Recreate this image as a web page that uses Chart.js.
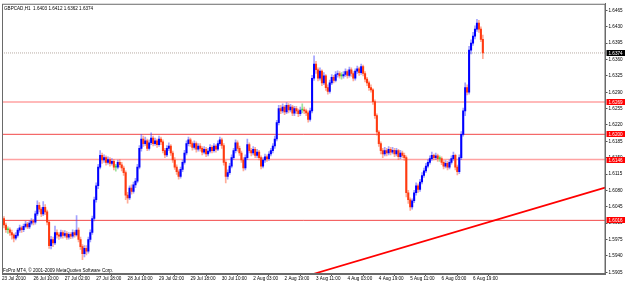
<!DOCTYPE html>
<html>
<head>
<meta charset="utf-8">
<script src="https://cdn.jsdelivr.net/npm/chart.js@4.4.0/dist/chart.umd.min.js"></script>
<style>
  html, body { margin: 0; padding: 0; background: #fff; }
  #wrap { width: 625px; height: 283px; }
</style>
</head>
<body>
<div id="wrap"><canvas id="chart"></canvas></div>
<script>
// GBPCAD H1, 23 Jul - 6 Aug 2010 (MT4 style candle chart)
const symbolTitle = 'GBPCAD,H1  1.6403 1.6412 1.6362 1.6374';
const copyrightText = 'FxPro MT4, \u00a9 2001-2009 MetaQuotes Software Corp.';

const timeLabels = ['23 Jul 2010', '26 Jul 10:00', '27 Jul 02:00', '27 Jul 18:00', '28 Jul 10:00',
  '29 Jul 02:00', '29 Jul 18:00', '30 Jul 10:00', '2 Aug 03:00', '2 Aug 19:00', '3 Aug 11:00',
  '4 Aug 03:00', '4 Aug 19:00', '5 Aug 11:00', '6 Aug 03:00', '6 Aug 19:00'];
const labelEvery = 16; // bars between two time labels

const priceTicks = [1.5905, 1.5940, 1.5975, 1.6010, 1.6045, 1.6080, 1.6115, 1.6150, 1.6185,
  1.6220, 1.6255, 1.6290, 1.6325, 1.6360, 1.6395, 1.6430, 1.6465];

const opens = [
  1.6024, 1.6020, 1.6006, 1.5996, 1.5996, 1.5990, 1.5985, 1.5978, 1.5984, 1.5995,
  1.6000, 1.5996, 1.6003, 1.6008, 1.6002, 1.6010, 1.6014, 1.6012, 1.6030, 1.6048,
  1.6040, 1.6030, 1.6044, 1.6034, 1.6012, 1.5962, 1.5975, 1.5968, 1.5990, 1.5985,
  1.5982, 1.5990, 1.5984, 1.5988, 1.5980, 1.5986, 1.5982, 1.5990, 1.5985, 1.5995,
  1.5975, 1.5960, 1.5945, 1.5956, 1.5950, 1.5975, 1.5990, 1.6020, 1.6060, 1.6090,
  1.6130, 1.6155, 1.6145, 1.6150, 1.6140, 1.6146, 1.6138, 1.6142, 1.6130, 1.6130,
  1.6140, 1.6135, 1.6128, 1.6118, 1.6070, 1.6064, 1.6085, 1.6078, 1.6092, 1.6100,
  1.6130, 1.6170, 1.6190, 1.6180, 1.6186, 1.6170, 1.6182, 1.6192, 1.6180, 1.6186,
  1.6178, 1.6190, 1.6184, 1.6165, 1.6156, 1.6170, 1.6175, 1.6160, 1.6145, 1.6130,
  1.6120, 1.6110, 1.6125, 1.6140, 1.6160, 1.6180, 1.6188, 1.6180, 1.6172, 1.6180,
  1.6168, 1.6175, 1.6170, 1.6162, 1.6168, 1.6158, 1.6164, 1.6172, 1.6165, 1.6175,
  1.6168, 1.6180, 1.6188, 1.6176, 1.6140, 1.6110, 1.6118, 1.6132, 1.6150, 1.6165,
  1.6182, 1.6170, 1.6160, 1.6145, 1.6128, 1.6150, 1.6178, 1.6165, 1.6160, 1.6168,
  1.6155, 1.6162, 1.6150, 1.6132, 1.6145, 1.6152, 1.6148, 1.6158, 1.6165, 1.6175,
  1.6190, 1.6225, 1.6255, 1.6250, 1.6258, 1.6248, 1.6262, 1.6252, 1.6258, 1.6245,
  1.6255, 1.6250, 1.6244, 1.6252, 1.6252, 1.6250, 1.6246, 1.6232, 1.6250, 1.6320,
  1.6350, 1.6338, 1.6320, 1.6335, 1.6310, 1.6325, 1.6300, 1.6292, 1.6310, 1.6322,
  1.6315, 1.6328, 1.6330, 1.6325, 1.6325, 1.6328, 1.6334, 1.6326, 1.6338, 1.6330,
  1.6320, 1.6335, 1.6340, 1.6332, 1.6345, 1.6330, 1.6318, 1.6310, 1.6300, 1.6295,
  1.6270, 1.6240, 1.6205, 1.6180, 1.6165, 1.6158, 1.6165, 1.6160, 1.6168, 1.6162,
  1.6166, 1.6158, 1.6165, 1.6152, 1.6160, 1.6155, 1.6150, 1.6075, 1.6060, 1.6045,
  1.6058, 1.6075, 1.6090, 1.6082, 1.6098, 1.6112, 1.6122, 1.6132, 1.6140, 1.6148,
  1.6155, 1.6150, 1.6154, 1.6148, 1.6148, 1.6140, 1.6132, 1.6138, 1.6130, 1.6140,
  1.6148, 1.6155, 1.6130, 1.6120, 1.6150, 1.6200, 1.6250, 1.6300, 1.6290, 1.6380,
  1.6395, 1.6410, 1.6425, 1.6438, 1.6425, 1.6403];

const highs = [
  1.6030, 1.6024, 1.6010, 1.6002, 1.6000, 1.5995, 1.5988, 1.5990, 1.5999, 1.6006,
  1.6004, 1.6008, 1.6014, 1.6012, 1.6015, 1.6020, 1.6018, 1.6036, 1.6058, 1.6054,
  1.6044, 1.6056, 1.6050, 1.6038, 1.6016, 1.5982, 1.5980, 1.6004, 1.5996, 1.5990,
  1.5995, 1.5994, 1.5994, 1.5992, 1.5990, 1.5990, 1.5996, 1.5994, 1.6026, 1.6000,
  1.5980, 1.5964, 1.5962, 1.5962, 1.5980, 1.5996, 1.6025, 1.6066, 1.6096, 1.6136,
  1.6165, 1.6160, 1.6156, 1.6154, 1.6152, 1.6150, 1.6148, 1.6146, 1.6136, 1.6145,
  1.6146, 1.6140, 1.6132, 1.6122, 1.6076, 1.6090, 1.6092, 1.6098, 1.6106, 1.6136,
  1.6176, 1.6200, 1.6196, 1.6194, 1.6190, 1.6188, 1.6203, 1.6196, 1.6192, 1.6190,
  1.6196, 1.6194, 1.6188, 1.6170, 1.6176, 1.6182, 1.6178, 1.6164, 1.6150, 1.6135,
  1.6124, 1.6130, 1.6145, 1.6166, 1.6186, 1.6194, 1.6192, 1.6184, 1.6186, 1.6184,
  1.6180, 1.6180, 1.6174, 1.6174, 1.6172, 1.6170, 1.6178, 1.6176, 1.6180, 1.6178,
  1.6186, 1.6194, 1.6192, 1.6180, 1.6144, 1.6124, 1.6138, 1.6156, 1.6170, 1.6188,
  1.6186, 1.6175, 1.6164, 1.6150, 1.6156, 1.6190, 1.6182, 1.6170, 1.6174, 1.6172,
  1.6168, 1.6166, 1.6154, 1.6150, 1.6158, 1.6156, 1.6163, 1.6170, 1.6180, 1.6196,
  1.6230, 1.6262, 1.6262, 1.6265, 1.6262, 1.6268, 1.6266, 1.6264, 1.6262, 1.6260,
  1.6260, 1.6254, 1.6258, 1.6265, 1.6258, 1.6254, 1.6250, 1.6256, 1.6326, 1.6368,
  1.6356, 1.6342, 1.6342, 1.6338, 1.6332, 1.6328, 1.6306, 1.6316, 1.6328, 1.6326,
  1.6334, 1.6336, 1.6334, 1.6332, 1.6334, 1.6340, 1.6338, 1.6344, 1.6342, 1.6334,
  1.6340, 1.6346, 1.6344, 1.6350, 1.6348, 1.6334, 1.6322, 1.6314, 1.6306, 1.6298,
  1.6274, 1.6244, 1.6208, 1.6184, 1.6170, 1.6172, 1.6170, 1.6174, 1.6172, 1.6172,
  1.6170, 1.6170, 1.6168, 1.6166, 1.6164, 1.6160, 1.6154, 1.6080, 1.6064, 1.6062,
  1.6080, 1.6096, 1.6094, 1.6104, 1.6118, 1.6128, 1.6138, 1.6146, 1.6154, 1.6162,
  1.6158, 1.6160, 1.6158, 1.6154, 1.6152, 1.6144, 1.6144, 1.6142, 1.6146, 1.6154,
  1.6162, 1.6158, 1.6134, 1.6156, 1.6206, 1.6256, 1.6310, 1.6306, 1.6388, 1.6402,
  1.6418, 1.6432, 1.6446, 1.6444, 1.6430, 1.6412];

const lows = [
  1.6012, 1.6000, 1.5990, 1.5988, 1.5984, 1.5976, 1.5970, 1.5974, 1.5980, 1.5990,
  1.5990, 1.5992, 1.6000, 1.5998, 1.5998, 1.6006, 1.6006, 1.6008, 1.6026, 1.6034,
  1.6024, 1.6026, 1.6028, 1.6006, 1.5956, 1.5955, 1.5960, 1.5964, 1.5978, 1.5975,
  1.5978, 1.5978, 1.5980, 1.5975, 1.5976, 1.5977, 1.5978, 1.5980, 1.5982, 1.5970,
  1.5954, 1.5932, 1.5938, 1.5942, 1.5946, 1.5970, 1.5986, 1.6015, 1.6055, 1.6084,
  1.6126, 1.6138, 1.6140, 1.6134, 1.6136, 1.6132, 1.6134, 1.6124, 1.6121, 1.6126,
  1.6130, 1.6122, 1.6112, 1.6060, 1.6053, 1.6060, 1.6072, 1.6074, 1.6086, 1.6096,
  1.6126, 1.6164, 1.6174, 1.6176, 1.6165, 1.6166, 1.6178, 1.6175, 1.6176, 1.6172,
  1.6174, 1.6178, 1.6160, 1.6150, 1.6152, 1.6165, 1.6155, 1.6140, 1.6125, 1.6114,
  1.6104, 1.6106, 1.6120, 1.6136, 1.6156, 1.6175, 1.6174, 1.6166, 1.6168, 1.6162,
  1.6164, 1.6164, 1.6156, 1.6158, 1.6152, 1.6154, 1.6160, 1.6160, 1.6162, 1.6162,
  1.6165, 1.6176, 1.6170, 1.6134, 1.6096, 1.6104, 1.6114, 1.6128, 1.6146, 1.6160,
  1.6164, 1.6155, 1.6140, 1.6122, 1.6124, 1.6146, 1.6160, 1.6154, 1.6156, 1.6150,
  1.6150, 1.6145, 1.6126, 1.6128, 1.6140, 1.6142, 1.6144, 1.6154, 1.6160, 1.6170,
  1.6186, 1.6220, 1.6244, 1.6246, 1.6242, 1.6244, 1.6246, 1.6248, 1.6240, 1.6240,
  1.6244, 1.6238, 1.6240, 1.6246, 1.6244, 1.6240, 1.6226, 1.6228, 1.6246, 1.6315,
  1.6330, 1.6314, 1.6316, 1.6304, 1.6306, 1.6294, 1.6286, 1.6288, 1.6306, 1.6310,
  1.6312, 1.6322, 1.6320, 1.6318, 1.6320, 1.6324, 1.6320, 1.6322, 1.6324, 1.6314,
  1.6316, 1.6330, 1.6326, 1.6328, 1.6325, 1.6312, 1.6304, 1.6294, 1.6290, 1.6264,
  1.6234, 1.6198, 1.6174, 1.6158, 1.6150, 1.6154, 1.6154, 1.6156, 1.6156, 1.6158,
  1.6152, 1.6154, 1.6146, 1.6148, 1.6150, 1.6144, 1.6066, 1.6052, 1.6037, 1.6040,
  1.6054, 1.6070, 1.6076, 1.6078, 1.6094, 1.6108, 1.6118, 1.6128, 1.6136, 1.6144,
  1.6145, 1.6146, 1.6142, 1.6142, 1.6135, 1.6126, 1.6128, 1.6124, 1.6126, 1.6136,
  1.6144, 1.6124, 1.6113, 1.6116, 1.6146, 1.6196, 1.6240, 1.6284, 1.6286, 1.6372,
  1.6390, 1.6404, 1.6420, 1.6418, 1.6398, 1.6362];

const closes = [
  1.6020, 1.6006, 1.5996, 1.5996, 1.5990, 1.5985, 1.5978, 1.5984, 1.5995, 1.6000,
  1.5996, 1.6003, 1.6008, 1.6002, 1.6010, 1.6014, 1.6012, 1.6030, 1.6048, 1.6040,
  1.6030, 1.6044, 1.6034, 1.6012, 1.5962, 1.5975, 1.5968, 1.5990, 1.5985, 1.5982,
  1.5990, 1.5984, 1.5988, 1.5980, 1.5986, 1.5982, 1.5990, 1.5985, 1.5995, 1.5975,
  1.5960, 1.5945, 1.5956, 1.5950, 1.5975, 1.5990, 1.6020, 1.6060, 1.6090, 1.6130,
  1.6155, 1.6145, 1.6150, 1.6140, 1.6146, 1.6138, 1.6142, 1.6130, 1.6130, 1.6140,
  1.6135, 1.6128, 1.6118, 1.6070, 1.6064, 1.6085, 1.6078, 1.6092, 1.6100, 1.6130,
  1.6170, 1.6190, 1.6180, 1.6186, 1.6170, 1.6182, 1.6192, 1.6180, 1.6186, 1.6178,
  1.6190, 1.6184, 1.6165, 1.6156, 1.6170, 1.6175, 1.6160, 1.6145, 1.6130, 1.6120,
  1.6110, 1.6125, 1.6140, 1.6160, 1.6180, 1.6188, 1.6180, 1.6172, 1.6180, 1.6168,
  1.6175, 1.6170, 1.6162, 1.6168, 1.6158, 1.6164, 1.6172, 1.6165, 1.6175, 1.6168,
  1.6180, 1.6188, 1.6176, 1.6140, 1.6110, 1.6118, 1.6132, 1.6150, 1.6165, 1.6182,
  1.6170, 1.6160, 1.6145, 1.6128, 1.6150, 1.6178, 1.6165, 1.6160, 1.6168, 1.6155,
  1.6162, 1.6150, 1.6132, 1.6145, 1.6152, 1.6148, 1.6158, 1.6165, 1.6175, 1.6190,
  1.6225, 1.6255, 1.6250, 1.6258, 1.6248, 1.6262, 1.6252, 1.6258, 1.6245, 1.6255,
  1.6250, 1.6244, 1.6252, 1.6252, 1.6250, 1.6246, 1.6232, 1.6250, 1.6320, 1.6350,
  1.6338, 1.6320, 1.6335, 1.6310, 1.6325, 1.6300, 1.6292, 1.6310, 1.6322, 1.6315,
  1.6328, 1.6330, 1.6325, 1.6325, 1.6328, 1.6334, 1.6326, 1.6338, 1.6330, 1.6320,
  1.6335, 1.6340, 1.6332, 1.6345, 1.6330, 1.6318, 1.6310, 1.6300, 1.6295, 1.6270,
  1.6240, 1.6205, 1.6180, 1.6165, 1.6158, 1.6165, 1.6160, 1.6168, 1.6162, 1.6166,
  1.6158, 1.6165, 1.6152, 1.6160, 1.6155, 1.6150, 1.6075, 1.6060, 1.6045, 1.6058,
  1.6075, 1.6090, 1.6082, 1.6098, 1.6112, 1.6122, 1.6132, 1.6140, 1.6148, 1.6155,
  1.6150, 1.6154, 1.6148, 1.6148, 1.6140, 1.6132, 1.6138, 1.6130, 1.6140, 1.6148,
  1.6155, 1.6130, 1.6120, 1.6150, 1.6200, 1.6250, 1.6300, 1.6290, 1.6380, 1.6395,
  1.6410, 1.6425, 1.6438, 1.6425, 1.6403, 1.6374];

// horizontal levels drawn on the chart
const pinkLevels = [1.6269, 1.6146];
const redLevels = [1.6200, 1.6016];
const bidPrice = 1.6374;
// trend line anchors: bar index and price
const trendBars = [158.5, 307.3];
const trendPrices = [1.5901, 1.6086];

const upColor = '#0000ff', downColor = '#ff3a10', dojiColor = '#3fd13f';
const upWick = 'rgba(70,70,255,0.5)', downWick = 'rgba(255,90,50,0.5)', dojiWick = 'rgba(60,200,60,0.5)';
const smallFont = '"Liberation Sans", Arial, sans-serif';

function candleColor(i, body) {
  if (closes[i] > opens[i]) return body ? upColor : upWick;
  if (closes[i] < opens[i]) return body ? downColor : downWick;
  return body ? dojiColor : dojiWick;
}

const X_MIN = 0, X_MAX = 307.5;

function levelLine(price, color, width, dash) {
  return {
    type: 'line',
    data: [{x: X_MIN, y: price}, {x: X_MAX, y: price}],
    borderColor: color, borderWidth: width, borderDash: dash || [],
    pointRadius: 0, order: 5
  };
}

const mt4Decor = {
  id: 'mt4Decor',
  afterDraw(chart) {
    const {ctx, chartArea: a, scales: {y}} = chart;
    ctx.save();
    ctx.strokeStyle = '#6a6a6a';
    ctx.lineWidth = 1;
    ctx.strokeRect(a.left + 0.5, a.top + 0.5, a.right - a.left - 1, a.bottom - a.top - 1);

    ctx.font = '4.6px ' + smallFont;
    ctx.fillStyle = '#000';
    ctx.textBaseline = 'top';
    ctx.fillText(symbolTitle, a.left + 2, a.top + 3);
    ctx.textBaseline = 'bottom';
    ctx.fillText(copyrightText, a.left + 1, a.bottom - 1);

    const box = (price, bg) => {
      const py = Math.round(y.getPixelForValue(price));
      ctx.fillStyle = bg;
      ctx.fillRect(a.right + 1, py - 3, 19, 6);
      ctx.fillStyle = '#fff';
      ctx.textBaseline = 'middle';
      ctx.fillText(price.toFixed(4), a.right + 3, py + 0.5);
    };
    pinkLevels.concat(redLevels).forEach(p => box(p, '#ff0000'));
    box(bidPrice, '#000');
    ctx.restore();
  }
};

const idx = opens.map((_, i) => i);

new Chart(document.getElementById('chart'), {
  type: 'bar',
  data: {
    datasets: [
      ...pinkLevels.map(p => levelLine(p, 'rgba(255,70,70,0.5)', 1.6)),
      ...redLevels.map(p => levelLine(p, 'rgba(240,40,40,0.85)', 1)),
      levelLine(bidPrice, '#b9aca4', 1, [1, 1]),
      {
        type: 'line',
        data: trendBars.map((b, k) => ({x: b, y: trendPrices[k]})),
        borderColor: '#ff0000', borderWidth: 1.6, pointRadius: 0, order: 4
      },
      {
        data: idx.map(i => ({x: i, y: [lows[i], highs[i]]})),
        backgroundColor: idx.map(i => candleColor(i, false)),
        barThickness: 1, grouped: false, order: 3
      },
      {
        data: idx.map(i => ({x: i, y: [opens[i], closes[i]]})),
        backgroundColor: idx.map(i => candleColor(i, true)),
        barThickness: 1.4, minBarLength: 1, grouped: false, order: 2
      }
    ]
  },
  options: {
    responsive: true,
    maintainAspectRatio: false,
    animation: false,
    events: [],
    layout: {padding: {left: 2, top: 2, right: 0, bottom: 0}},
    plugins: {legend: {display: false}, tooltip: {enabled: false}},
    scales: {
      x: {
        type: 'linear', min: X_MIN, max: X_MAX, offset: false,
        grid: {display: true, drawOnChartArea: false, drawTicks: true, tickLength: 2, color: '#555'},
        border: {display: true, color: '#6a6a6a'},
        afterBuildTicks: s => { s.ticks = timeLabels.map((_, k) => ({value: k * labelEvery})); },
        afterFit: s => { s.height = 9; },
        ticks: {
          autoSkip: false, maxRotation: 0, align: 'start', padding: 0,
          color: '#000', font: {size: 4.6, family: smallFont},
          callback: (v, i) => timeLabels[i]
        }
      },
      y: {
        position: 'right', min: 1.59013, max: 1.64792,
        grid: {display: true, drawOnChartArea: false, drawTicks: true, tickLength: 2, color: '#555'},
        border: {display: true, color: '#6a6a6a'},
        afterBuildTicks: s => { s.ticks = priceTicks.map(v => ({value: v})); },
        afterFit: s => { s.width = 19.5; },
        ticks: {
          autoSkip: false, padding: 1,
          color: '#000', font: {size: 4.6, family: smallFont},
          callback: v => v.toFixed(4)
        }
      }
    }
  },
  plugins: [mt4Decor]
});
</script>
</body>
</html>
